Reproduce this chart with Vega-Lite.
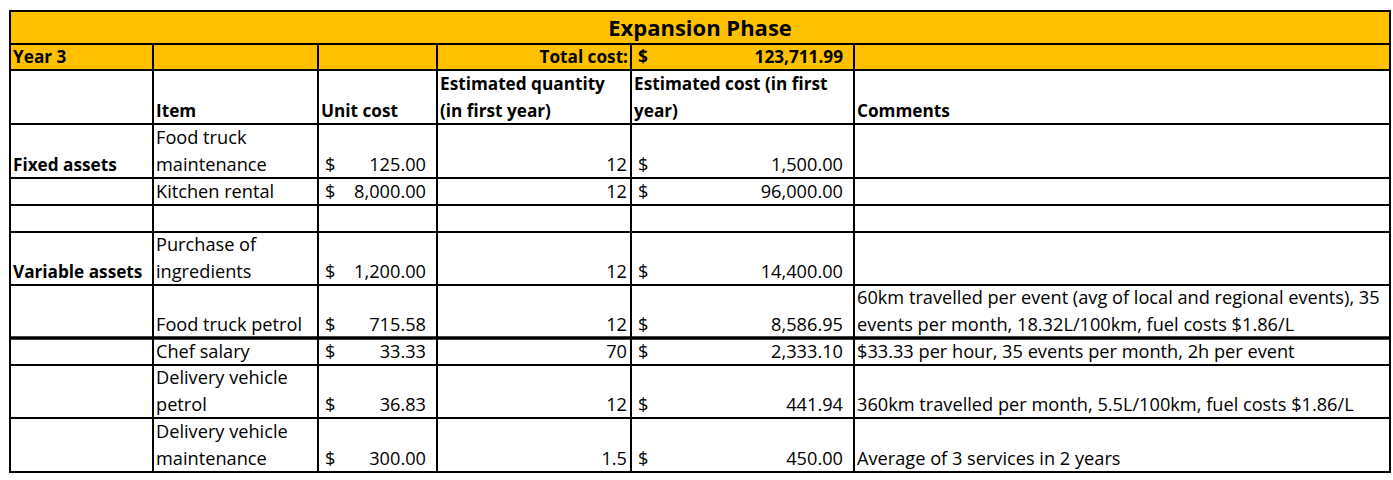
{
  "$schema": "https://vega.github.io/schema/vega-lite/v6.json",
  "width": 1393,
  "height": 480,
  "autosize": {"type": "fit", "contains": "padding"},
  "padding": 0,
  "background": "white",
  "config": {
    "view": {"stroke": null},
    "text": {"font": "Open Sans", "fontSize": 18.2, "lineBreak": "\n", "lineHeight": 27, "color": "black"}
  },
  "datasets": {
    "cols": [
      {"col": "Category", "x0": 10, "x1": 153},
      {"col": "Item", "x0": 153, "x1": 318},
      {"col": "Unit", "x0": 318, "x1": 437},
      {"col": "Qty", "x0": 437, "x1": 631},
      {"col": "Cost", "x0": 631, "x1": 854},
      {"col": "Comments", "x0": 854, "x1": 1390},
      {"col": "Span", "x0": 10, "x1": 1390}
    ],
    "rows": [
      {"row": 0, "top": 11, "bottom": 44},
      {"row": 1, "top": 44, "bottom": 70},
      {"row": 2, "top": 70, "bottom": 124},
      {"row": 3, "top": 124, "bottom": 178},
      {"row": 4, "top": 178, "bottom": 205},
      {"row": 5, "top": 205, "bottom": 232},
      {"row": 6, "top": 232, "bottom": 285},
      {"row": 7, "top": 285, "bottom": 338},
      {"row": 8, "top": 338, "bottom": 365},
      {"row": 9, "top": 365, "bottom": 418},
      {"row": 10, "top": 418, "bottom": 472}
    ],
    "cells": [
      {"row": 0, "col": "Span", "center": "Expansion Phase"},
      {"row": 1, "col": "Category", "left": "Year 3"},
      {"row": 1, "col": "Item"},
      {"row": 1, "col": "Unit"},
      {"row": 1, "col": "Qty", "right": "Total cost:"},
      {"row": 1, "col": "Cost", "cur": "$", "money": 123711.99},
      {"row": 1, "col": "Comments"},
      {"row": 2, "col": "Category"},
      {"row": 2, "col": "Item", "left": "Item"},
      {"row": 2, "col": "Unit", "left": "Unit cost"},
      {"row": 2, "col": "Qty", "left": "Estimated quantity\n(in first year)"},
      {"row": 2, "col": "Cost", "left": "Estimated cost (in first\nyear)"},
      {"row": 2, "col": "Comments", "left": "Comments"},
      {"row": 3, "col": "Category", "left": "Fixed assets"},
      {"row": 3, "col": "Item", "left": "Food truck\nmaintenance"},
      {"row": 3, "col": "Unit", "cur": "$", "money": 125},
      {"row": 3, "col": "Qty", "qty": 12},
      {"row": 3, "col": "Cost", "cur": "$", "money": 1500},
      {"row": 3, "col": "Comments"},
      {"row": 4, "col": "Category"},
      {"row": 4, "col": "Item", "left": "Kitchen rental"},
      {"row": 4, "col": "Unit", "cur": "$", "money": 8000},
      {"row": 4, "col": "Qty", "qty": 12},
      {"row": 4, "col": "Cost", "cur": "$", "money": 96000},
      {"row": 4, "col": "Comments"},
      {"row": 5, "col": "Category"},
      {"row": 5, "col": "Item"},
      {"row": 5, "col": "Unit"},
      {"row": 5, "col": "Qty"},
      {"row": 5, "col": "Cost"},
      {"row": 5, "col": "Comments"},
      {"row": 6, "col": "Category", "left": "Variable assets"},
      {"row": 6, "col": "Item", "left": "Purchase of\ningredients"},
      {"row": 6, "col": "Unit", "cur": "$", "money": 1200},
      {"row": 6, "col": "Qty", "qty": 12},
      {"row": 6, "col": "Cost", "cur": "$", "money": 14400},
      {"row": 6, "col": "Comments"},
      {"row": 7, "col": "Category"},
      {"row": 7, "col": "Item", "left": "Food truck petrol"},
      {"row": 7, "col": "Unit", "cur": "$", "money": 715.58},
      {"row": 7, "col": "Qty", "qty": 12},
      {"row": 7, "col": "Cost", "cur": "$", "money": 8586.95},
      {"row": 7, "col": "Comments", "left": "60km travelled per event (avg of local and regional events), 35\nevents per month, 18.32L/100km, fuel costs $1.86/L"},
      {"row": 8, "col": "Category"},
      {"row": 8, "col": "Item", "left": "Chef salary"},
      {"row": 8, "col": "Unit", "cur": "$", "money": 33.33},
      {"row": 8, "col": "Qty", "qty": 70},
      {"row": 8, "col": "Cost", "cur": "$", "money": 2333.1},
      {"row": 8, "col": "Comments", "left": "$33.33 per hour, 35 events per month, 2h per event"},
      {"row": 9, "col": "Category"},
      {"row": 9, "col": "Item", "left": "Delivery vehicle\npetrol"},
      {"row": 9, "col": "Unit", "cur": "$", "money": 36.83},
      {"row": 9, "col": "Qty", "qty": 12},
      {"row": 9, "col": "Cost", "cur": "$", "money": 441.94},
      {"row": 9, "col": "Comments", "left": "360km travelled per month, 5.5L/100km, fuel costs $1.86/L"},
      {"row": 10, "col": "Category"},
      {"row": 10, "col": "Item", "left": "Delivery vehicle\nmaintenance"},
      {"row": 10, "col": "Unit", "cur": "$", "money": 300},
      {"row": 10, "col": "Qty", "qty": 1.5},
      {"row": 10, "col": "Cost", "cur": "$", "money": 450},
      {"row": 10, "col": "Comments", "left": "Average of 3 services in 2 years"}
    ]
  },
  "data": {"name": "cells"},
  "transform": [
    {"lookup": "col", "from": {"data": {"name": "cols"}, "key": "col", "fields": ["x0", "x1"]}},
    {"lookup": "row", "from": {"data": {"name": "rows"}, "key": "row", "fields": ["top", "bottom"]}},
    {"calculate": "(datum.x0 + datum.x1) / 2", "as": "xmid"}
  ],
  "layer": [
    {
      "mark": {"type": "rect", "stroke": "black", "strokeWidth": 2},
      "encoding": {
        "x": {"field": "x0", "type": "quantitative", "scale": {"domain": [0, 1393], "nice": false, "zero": false}, "axis": null},
        "x2": {"field": "x1"},
        "y": {"field": "top", "type": "quantitative", "scale": {"domain": [0, 480], "nice": false, "zero": false, "reverse": true}, "axis": null},
        "y2": {"field": "bottom"},
        "fill": {"condition": {"test": "datum.row <= 1", "value": "#FFC000"}, "value": "white"}
      }
    },
    {
      "transform": [{"filter": "datum.row == 8"}],
      "mark": {"type": "rule", "stroke": "black", "strokeWidth": 3.5},
      "encoding": {
        "x": {"field": "x0", "type": "quantitative"},
        "x2": {"field": "x1"},
        "y": {"field": "top", "type": "quantitative"}
      }
    },
    {
      "transform": [{"filter": "datum.center"}],
      "mark": {"type": "text", "align": "center", "baseline": "alphabetic", "dy": -8, "fontSize": 22, "fontWeight": "bold"},
      "encoding": {
        "x": {"field": "xmid", "type": "quantitative"},
        "y": {"field": "bottom", "type": "quantitative"},
        "text": {"field": "center"}
      }
    },
    {
      "transform": [{"filter": "datum.left"}],
      "mark": {"type": "text", "align": "left", "baseline": "alphabetic", "dx": 3,
        "dy": {"expr": "-7 - 27 * (length(split(datum.left, '\\n')) - 1)"},
        "fontWeight": {"expr": "datum.row <= 2 || datum.col == 'Category' ? 'bold' : 'normal'"},
        "fontSize": {"expr": "datum.row <= 2 || datum.col == 'Category' ? 17.2 : 18.2"}},
      "encoding": {
        "x": {"field": "x0", "type": "quantitative"},
        "y": {"field": "bottom", "type": "quantitative"},
        "text": {"field": "left"}
      }
    },
    {
      "transform": [{"filter": "datum.cur"}],
      "mark": {"type": "text", "align": "left", "baseline": "alphabetic", "dx": 7, "dy": -7,
        "fontWeight": {"expr": "datum.row <= 2 ? 'bold' : 'normal'"},
        "fontSize": {"expr": "datum.row <= 2 ? 17.2 : 18.2"}},
      "encoding": {
        "x": {"field": "x0", "type": "quantitative"},
        "y": {"field": "bottom", "type": "quantitative"},
        "text": {"field": "cur"}
      }
    },
    {
      "transform": [{"filter": "isValid(datum.money)"}],
      "mark": {"type": "text", "align": "right", "baseline": "alphabetic", "dx": -11, "dy": -7,
        "fontWeight": {"expr": "datum.row <= 2 ? 'bold' : 'normal'"},
        "fontSize": {"expr": "datum.row <= 2 ? 17.2 : 18.2"}},
      "encoding": {
        "x": {"field": "x1", "type": "quantitative"},
        "y": {"field": "bottom", "type": "quantitative"},
        "text": {"field": "money", "type": "quantitative", "format": ",.2f"}
      }
    },
    {
      "transform": [{"filter": "isValid(datum.qty)"}],
      "mark": {"type": "text", "align": "right", "baseline": "alphabetic", "dx": -4, "dy": -7},
      "encoding": {
        "x": {"field": "x1", "type": "quantitative"},
        "y": {"field": "bottom", "type": "quantitative"},
        "text": {"field": "qty", "type": "quantitative", "format": "~g"}
      }
    },
    {
      "transform": [{"filter": "datum.right"}],
      "mark": {"type": "text", "align": "right", "baseline": "alphabetic", "dx": -3, "dy": -7, "fontSize": 17.2, "fontWeight": "bold"},
      "encoding": {
        "x": {"field": "x1", "type": "quantitative"},
        "y": {"field": "bottom", "type": "quantitative"},
        "text": {"field": "right"}
      }
    }
  ]
}
